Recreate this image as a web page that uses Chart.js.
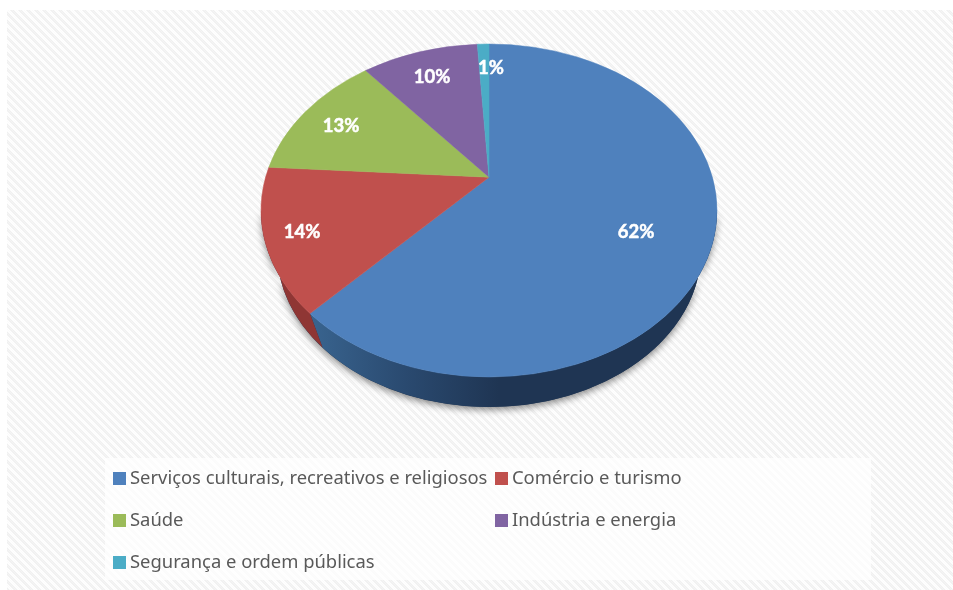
<!DOCTYPE html>
<html><head><meta charset="utf-8">
<style>html,body{margin:0;padding:0;background:#fff;overflow:hidden}canvas{display:block}</style>
<script src="https://cdn.jsdelivr.net/npm/chart.js@4"></script>
</head><body><canvas id="c" width="953" height="590"></canvas>
<script>
const categories = ["Serviços culturais, recreativos e religiosos","Comércio e turismo","Saúde","Indústria e energia","Segurança e ordem públicas"];
const values = [62,14,13,10,1];
const tickLabels = ["62%","14%","13%","10%","1%"];
const colours = ["#4f81bd","#c0504d","#9bbb59","#8064a2","#4bacc6"];
const sideColours = ["#1f3553","#8f3634","#6d853d","#5a4672","#33798b"];

const P = {cx:489, cy:210.5, rx:228, ry:166.5, d:0.2, bcy:251, brx:212, bry:156};
const labelAt = [[636,232],[302,232],[341,126],[432,77],[491,68]];
const legendAt = [[113,130,478],[495,512,478],[113,130,520],[495,512,520],[113,130,562]];

function phiOf(theta){
  const u=Math.cos(theta), v=-Math.sin(theta), s=Math.sqrt(1-P.d*P.d);
  const den=1+P.d*v;
  return Math.atan2(-(v+P.d)/den, u*s/den);
}
function stripes(){
  const n=8, t=document.createElement('canvas'); t.width=t.height=n;
  const g=t.getContext('2d');
  for(let y=0;y<n;y++)for(let x=0;x<n;x++){
    const k=((x-y)%n+n)%n;
    const chk=(x+y)%2;
    g.fillStyle = k<4 ? (chk?'#f0f0f0':'#f5f5f5') : (chk?'#ffffff':'#fbfbfb');
    g.fillRect(x,y,1,1);
  }
  return t;
}
const pie3d = {
  id:'pie3d',
  beforeDraw(chart){
    const c=chart.ctx;
    c.save();
    c.fillStyle='#fff'; c.fillRect(0,0,953,590);
    c.fillStyle=c.createPattern(stripes(),'repeat');
    c.fillRect(7,10,946,580);
    c.fillStyle='rgba(255,255,255,0.72)';
    c.fillRect(105,458,766,122);
    c.restore();
  },
  beforeDatasetsDraw(chart){
    const c=chart.ctx, arcs=chart.getDatasetMeta(0).data;
    c.save();
    c.save();
    c.shadowColor='rgba(0,0,0,0.45)'; c.shadowBlur=7; c.shadowOffsetY=3;
    c.fillStyle='#1f3553';
    c.beginPath();
    c.ellipse(P.cx,P.bcy,P.brx,P.bry,0,0,Math.PI);
    c.ellipse(P.cx,P.cy,P.rx,P.ry,0,Math.PI,0,true);
    c.closePath(); c.fill();
    c.restore();
    arcs.forEach((a,i)=>{
      let p0=phiOf(a.startAngle), p1=phiOf(a.endAngle);
      if(p1<p0) p1+=2*Math.PI;
      const lo=Math.max(p0,0), hi=Math.min(p1,Math.PI);
      if(hi<=lo) return;
      c.beginPath();
      c.ellipse(P.cx,P.cy,P.rx,P.ry,0,lo,hi);
      c.ellipse(P.cx,P.bcy,P.brx,P.bry,0,hi,lo,true);
      c.closePath();
      if(i===0){
        const g=c.createLinearGradient(P.cx+P.rx*Math.cos(hi),0,P.cx+10,0);
        g.addColorStop(0,'#39648f'); g.addColorStop(0.5,'#2a4a70'); g.addColorStop(1,sideColours[0]);
        c.fillStyle=g;
      } else c.fillStyle=sideColours[i];
      c.fill();
    });
    const ax=P.cx, ay=P.cy-P.d*P.ry;
    arcs.forEach((a,i)=>{
      c.beginPath();
      c.moveTo(ax,ay);
      c.ellipse(P.cx,P.cy,P.rx,P.ry,0,phiOf(a.startAngle),phiOf(a.endAngle));
      c.closePath();
      c.fillStyle=colours[i]; c.fill();
      c.strokeStyle=colours[i]; c.lineWidth=0.5; c.stroke();
    });
    c.restore();
    return false;
  },
  afterDraw(chart){
    const c=chart.ctx;
    c.save();
    c.textBaseline='middle';
    c.textAlign='center'; c.fillStyle='#fff'; c.strokeStyle='#fff'; c.lineWidth=0.5; c.font='bold 18.5px Lato';
    tickLabels.forEach((t,i)=>{c.fillText(t,labelAt[i][0],labelAt[i][1]);c.strokeText(t,labelAt[i][0],labelAt[i][1]);});
    c.textAlign='left'; c.font='18.4px "Noto Sans"';
    categories.forEach((t,i)=>{
      const [sx,tx,y]=legendAt[i];
      c.fillStyle=colours[i]; c.fillRect(sx,y-6,13,13);
      c.fillStyle='#595959'; c.fillText(t,tx,y+1);
    });
    c.restore();
  }
};
new Chart(document.getElementById('c'),{
  type:'pie',
  data:{labels:categories,datasets:[{data:values,backgroundColor:colours,borderWidth:0}]},
  options:{responsive:false,animation:false,plugins:{legend:{display:false},tooltip:{enabled:false}}},
  plugins:[pie3d]
});
</script></body></html>
